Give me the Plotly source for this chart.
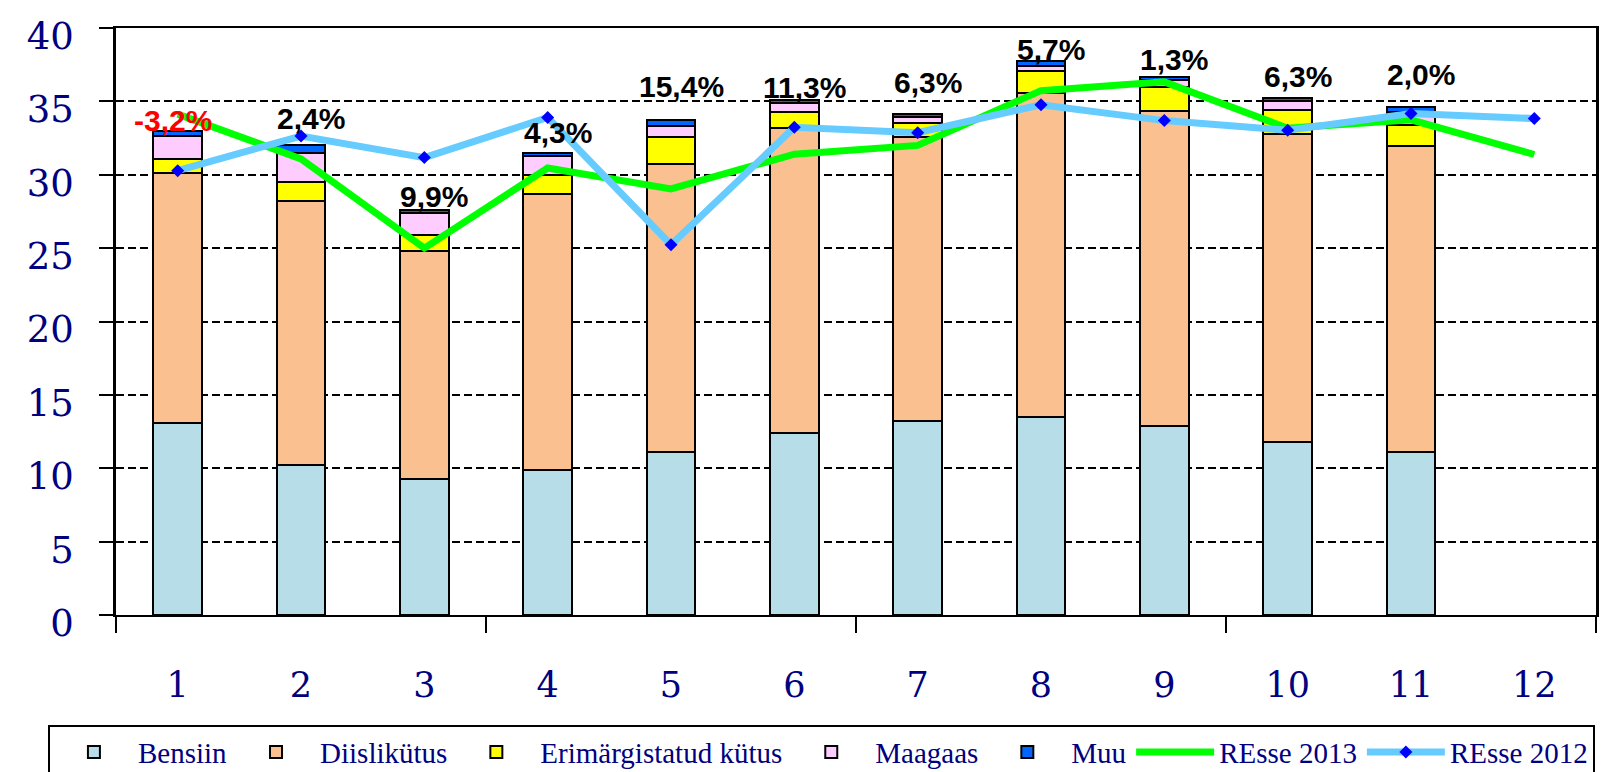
import plotly.graph_objects as go

months = list(range(1, 13))
month_labels = [str(m) for m in months]
y_ticks = [0, 5, 10, 15, 20, 25, 30, 35, 40]

bensiin = [13.1, 10.2, 9.3, 9.9, 11.1, 12.4, 13.2, 13.5, 12.9, 11.8, 11.1, None]
diislikytus = [17.05, 18.0, 15.5, 18.8, 19.65, 20.8, 19.4, 22.1, 21.45, 20.95, 20.85, None]
erimargistatud = [0.95, 1.3, 1.1, 1.3, 1.85, 1.1, 0.9, 1.5, 1.65, 1.65, 1.45, None]
maagaas = [1.55, 2.0, 1.5, 1.3, 0.7, 0.6, 0.45, 0.3, 0.45, 0.6, 0.85, None]
muu = [0.3, 0.5, 0.2, 0.2, 0.4, 0.2, 0.2, 0.35, 0.2, 0.2, 0.4, None]

resse_2013 = [34.13, 31.08, 25.0, 30.46, 29.04, 31.4, 32.0, 35.73, 36.33, 33.17, 33.74, 31.38]
resse_2012 = [30.28, 32.64, 31.17, 33.9, 25.23, 33.23, 32.87, 34.77, 33.69, 33.03, 34.17, 33.83]

pct_labels = ["-3,2%", "2,4%", "9,9%", "4,3%", "15,4%", "11,3%", "6,3%", "5,7%", "1,3%", "6,3%", "2,0%"]
pct_label_y = [33.7, 33.85, 28.5, 32.87, 36.03, 35.96, 36.28, 38.53, 37.82, 36.72, 36.83]

NAVY = "#000080"
fig = go.Figure()

bar_series = [
    ("Bensiin", bensiin, "#B7DDE8"),
    ("Diislikütus", diislikytus, "#FAC090"),
    ("Erimärgistatud kütus", erimargistatud, "#FFFF00"),
    ("Maagaas", maagaas, "#FFCCFF"),
    ("Muu", muu, "#0066FF"),
]
for name, vals, col in bar_series:
    fig.add_trace(go.Bar(x=months, y=vals, name=name,
                         marker=dict(color=col, line=dict(color="black", width=2))))

fig.add_trace(go.Scatter(x=months, y=resse_2013, name="REsse 2013", mode="lines",
                         line=dict(color="#00FF00", width=7)))
fig.add_trace(go.Scatter(x=months, y=resse_2012, name="REsse 2012", mode="lines+markers",
                         line=dict(color="#66CCFF", width=7),
                         marker=dict(symbol="diamond", color="#0000FF", size=10)))

for i, (txt, yv) in enumerate(zip(pct_labels, pct_label_y)):
    fig.add_annotation(x=months[i], y=yv, text=txt, showarrow=False,
                       xshift=-5 if i == 0 else 10,
                       font=dict(family="Liberation Sans", size=30, weight="bold",
                                 color="#FF0000" if txt.startswith("-") else "black"))

fig.update_layout(
    width=1619, height=772,
    margin=dict(l=108, r=31, t=20, b=165, autoexpand=False),
    barmode="stack", bargap=0.607,
    plot_bgcolor="white", paper_bgcolor="white",
    showlegend=True,
    legend=dict(orientation="h", x=-0.046, y=-0.187, xanchor="left", yanchor="top",
                bordercolor="black", borderwidth=2, bgcolor="white",
                font=dict(family="Liberation Serif", size=29, color=NAVY),
                itemwidth=78, traceorder="normal"),
)
fig.update_xaxes(range=[0.5, 12.5], tickmode="array", tickvals=months, ticktext=month_labels,
                 ticks="", showline=True, linecolor="black", linewidth=2, mirror=True,
                 showgrid=False, zeroline=False, ticklabelstandoff=38,
                 tickfont=dict(family="DejaVu Serif", size=35, color=NAVY),
                 minor=dict(tickmode="array", tickvals=[0.5, 3.5, 6.5, 9.5, 12.5], ticks="outside",
                            ticklen=16, tickwidth=2, tickcolor="black", showgrid=False))
fig.update_yaxes(range=[0, 40], tickmode="array", tickvals=y_ticks, ticks="outside", ticklen=14,
                 tickwidth=2, tickcolor="black", showline=True, linecolor="black", linewidth=2.5,
                 mirror=True, showgrid=True, gridcolor="black", gridwidth=1.5, griddash="8px,4px",
                 zeroline=False, ticklabelstandoff=18, ticklabelshift=8, ticklabeloverflow="allow",
                 tickfont=dict(family="DejaVu Serif", size=37, color=NAVY))

fig.write_html("out.html")
